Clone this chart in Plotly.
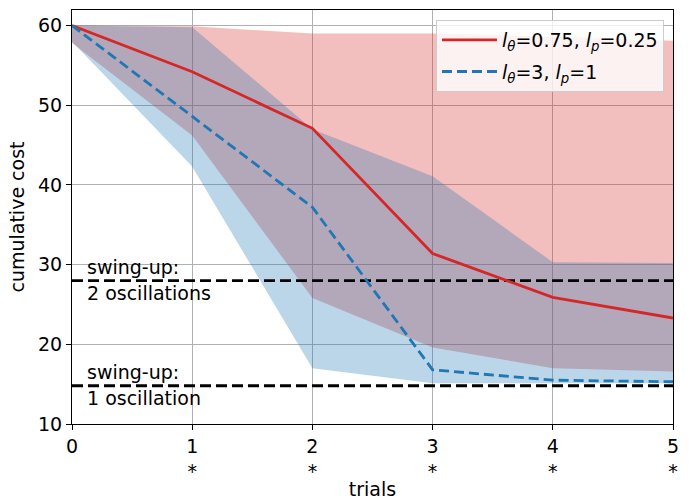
import plotly.graph_objects as go

trials = [0, 1, 2, 3, 4, 5]
tick_labels = ["0", "1<br>*", "2<br>*", "3<br>*", "4<br>*", "5<br>*"]

red_mean = [60.0, 54.2, 47.1, 31.4, 25.9, 23.3]
red_upper = [60.0, 59.9, 59.0, 59.0, 58.6, 58.1]
red_lower = [57.8, 46.2, 25.8, 19.6, 17.0, 16.6]

blue_mean = [60.0, 48.6, 37.2, 16.8, 15.5, 15.3]
blue_upper = [60.0, 59.8, 47.0, 41.1, 30.3, 30.2]
blue_lower = [58.0, 42.3, 17.0, 15.1, 15.1, 15.1]

ref_levels = [28.0, 14.8]
ref_labels = [("swing-up:", "2 oscillations"), ("swing-up:", "1 oscillation")]

RED = "#d62728"
BLUE = "#1f77b4"
FONT = "DejaVu Sans"
FS = 19

fig = go.Figure()

def band(upper, lower, color):
    return go.Scatter(
        x=trials + trials[::-1],
        y=upper + lower[::-1],
        fill="toself",
        fillcolor=color,
        line=dict(width=0),
        mode="lines",
        hoverinfo="skip",
        showlegend=False,
    )

fig.add_trace(band(red_upper, red_lower, "rgba(214,39,40,0.3)"))
fig.add_trace(band(blue_upper, blue_lower, "rgba(31,119,180,0.3)"))

for lvl in ref_levels:
    fig.add_trace(go.Scatter(
        x=[trials[0], trials[-1]], y=[lvl, lvl], mode="lines",
        line=dict(color="black", width=2.8, dash="11px,5px"),
        showlegend=False, hoverinfo="skip",
    ))

fig.add_trace(go.Scatter(
    x=trials, y=red_mean, mode="lines",
    line=dict(color=RED, width=2.8),
    name="<i>l</i><sub><i>θ</i></sub>=0.75, <i>l</i><sub><i>p</i></sub>=0.25",
    legendgroup="a",
))
fig.add_trace(go.Scatter(
    x=trials, y=blue_mean, mode="lines",
    line=dict(color=BLUE, width=2.8, dash="10px,5px"),
    name="<i>l</i><sub><i>θ</i></sub>=3, <i>l</i><sub><i>p</i></sub>=1",
    legendgroup="b",
))

for lvl, (above, below) in zip(ref_levels, ref_labels):
    fig.add_annotation(x=0.11, y=lvl, text=above, showarrow=False,
                       xanchor="left", yanchor="bottom", yshift=1,
                       font=dict(size=FS, color="black", family=FONT))
    fig.add_annotation(x=0.11, y=lvl, text=below, showarrow=False,
                       xanchor="left", yanchor="top", yshift=1,
                       font=dict(size=FS, color="black", family=FONT))

axis_common = dict(
    showline=True, linecolor="black", linewidth=1.2, mirror=True,
    ticks="outside", ticklen=5, tickcolor="black",
    showgrid=True, gridcolor="#b0b0b0", gridwidth=1,
    zeroline=False, automargin=False,
    tickfont=dict(size=FS, color="black", family=FONT),
)

fig.update_xaxes(
    range=[0, 5], tickmode="array", tickvals=trials, ticktext=tick_labels,
    title=dict(text="trials", font=dict(size=FS, color="black", family=FONT), standoff=6),
    **axis_common,
)
fig.update_yaxes(
    range=[10, 61.95], tickmode="array", tickvals=[10, 20, 30, 40, 50, 60],
    title=dict(text="cumulative cost", font=dict(size=FS, color="black", family=FONT), standoff=8),
    **axis_common,
)

fig.update_layout(
    width=689, height=500,
    margin=dict(l=72, r=16, t=10, b=76),
    plot_bgcolor="white", paper_bgcolor="white",
    font=dict(family=FONT, size=FS, color="black"),
    legend=dict(
        x=0.985, y=0.976, xanchor="right", yanchor="top",
        bgcolor="rgba(255,255,255,0.8)", bordercolor="#cccccc", borderwidth=1,
        font=dict(size=FS, color="black", family=FONT),
        itemwidth=55, traceorder="grouped", tracegroupgap=4,
    ),
)

fig.write_html("out.html", config={"displayModeBar": False},
               post_script="document.body.style.margin='0';")
